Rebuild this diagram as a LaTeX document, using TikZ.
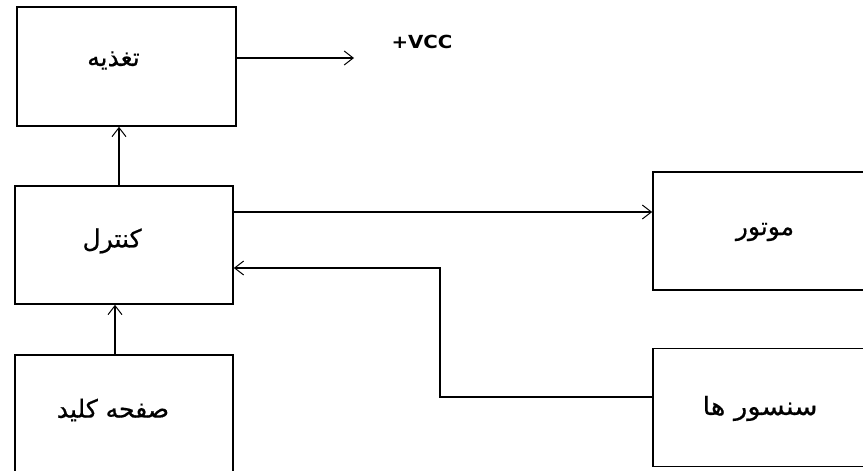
\documentclass[tikz,border=0pt]{standalone}
\usepackage{fontspec}
\usetikzlibrary{arrows.meta}
\TeXXeTstate=1
\newfontfamily\arabicfont[Script=Arabic,FakeBold=0.6]{DejaVu Sans}
\newfontfamily\vccfont[FakeStretch=1.1]{DejaVu Sans}
\tikzset{
  block/.style={draw, line width=1.7pt, minimum width=218pt, minimum height=118pt, inner sep=0pt},
  txt/.style={inner sep=0pt, font=\arabicfont\fontsize{25}{30}\selectfont},
  link/.style={line width=1.3pt, -{Straight Barb[length=9pt,width=14pt,line width=1pt]}}
}
\newcommand{\fa}[1]{\beginR #1\endR}
\begin{document}
\begin{tikzpicture}[x=1pt,y=-1pt]
                \useasboundingbox[fill=white] (0,0) rectangle (863,471);
                %\draw[help lines] (0,0) grid[step=50] (863,471);
                \node[block, minimum width=219pt, minimum height=119pt] (pwr) at (126.5,66.5) {};
                \node[block] (ctl) at (124,245) {};
                \node[block] (key) at (124,414) {};
                \node[block] (mot) at (762,231) {};
                \node[block] (sen) at (762,407.5) {};
                \node[txt] (pwrtxt) at ([xshift=-13pt,yshift=6pt]pwr.center) {\fa{تغذیه}};
                \node[txt] (ctltxt) at ([xshift=-12pt,yshift=4pt]ctl.center) {\fa{کنترل}};
                \node[txt] (keytxt) at ([xshift=-11pt,yshift=4pt]key.center) {\fa{صفحه کلید}};
                \node[txt] (mottxt) at ([xshift=3pt,yshift=-1pt]mot.center) {\fa{موتور}};
                \node[txt, xscale=1.1] (sentxt) at ([xshift=-2pt,yshift=-1pt]sen.center) {\fa{سنسور ها}};
                \node[font=\vccfont\bfseries\fontsize{18}{21}\selectfont, inner sep=0pt] (vcc) at (422,42) {+VCC};
                \coordinate (vcctip) at (354,58);
                \coordinate (bend) at (440,330);
                \draw[link] ([yshift=8.5pt]pwr.east) -- (vcctip);
                \draw[link] ([xshift=-5pt]ctl.north) -- ([xshift=-5pt]ctl.north |- pwr.south);
                \draw[link] ([xshift=-9pt]key.north) -- ([xshift=-9pt]key.north |- ctl.south);
                \draw[link] ([yshift=33pt]ctl.east) -- ([yshift=33pt]ctl.east -| mot.west);
                \draw[link] ([yshift=10.5pt]sen.west) -| (bend) |- ([yshift=-23pt]ctl.east);
            \end{tikzpicture}
\end{document}
